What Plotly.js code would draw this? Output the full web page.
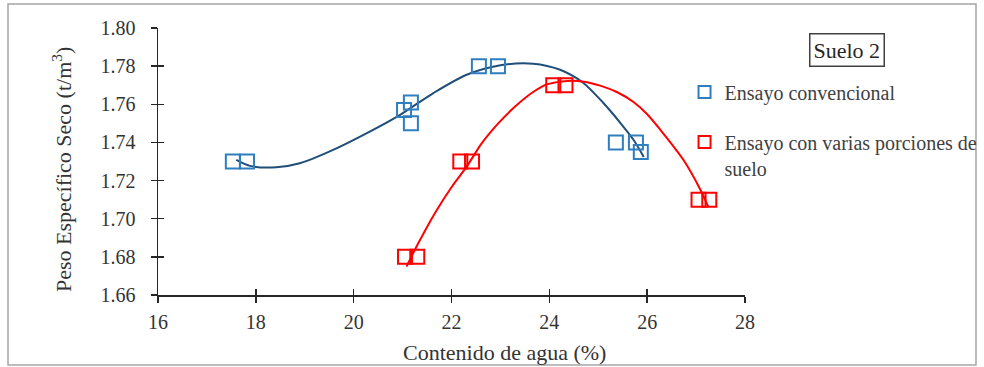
<!DOCTYPE html>
<html><head><meta charset="utf-8">
<script src="https://cdn.plot.ly/plotly-3.0.1.min.js"></script>
<style>html,body{margin:0;padding:0;background:#fff}#chart{width:984px;height:367px}</style>
</head><body><div id="chart"></div>
<script>
// Measured points: Ensayo convencional
const convX = [17.53, 17.82, 21.03, 21.17, 21.17, 22.56, 22.95, 25.36, 25.77, 25.87];
const convY = [1.730, 1.730, 1.757, 1.761, 1.750, 1.780, 1.780, 1.740, 1.740, 1.735];
// Measured points: Ensayo con varias porciones de suelo
const porcX = [21.05, 21.3, 22.18, 22.42, 24.08, 24.33, 27.05, 27.27];
const porcY = [1.680, 1.680, 1.730, 1.730, 1.770, 1.770, 1.710, 1.710];
// Trend lines
const trendConvX = [17.60, 17.88, 18.42, 18.90, 19.58, 20.27, 20.95, 21.63, 22.31, 23.00, 23.67, 24.22, 24.69, 25.10, 25.45, 25.72, 25.93];
const trendConvY = [1.7308, 1.7277, 1.7270, 1.7291, 1.7361, 1.7449, 1.7545, 1.7659, 1.7755, 1.7805, 1.7813, 1.7781, 1.7713, 1.7608, 1.7503, 1.7414, 1.7324];
const trendPorcX = [21.08, 21.32, 21.66, 22.01, 22.31, 22.62, 22.96, 23.30, 23.64, 23.92, 24.26, 24.67, 25.04, 25.39, 25.72, 26.00, 26.27, 26.74, 27.09, 27.25];
const trendPorcY = [1.6749, 1.6871, 1.7029, 1.7169, 1.7273, 1.7396, 1.7501, 1.7588, 1.7659, 1.7702, 1.7720, 1.7720, 1.7698, 1.7663, 1.7612, 1.7548, 1.7466, 1.7309, 1.7151, 1.7062];
// Axis ticks and labels
const xTicks = [16, 18, 20, 22, 24, 26, 28];
const yTicks = [1.66, 1.68, 1.70, 1.72, 1.74, 1.76, 1.78, 1.80];
const seriesNames = ['Ensayo convencional', 'Ensayo con varias porciones de<br>suelo'];
const xTitle = 'Contenido de agua (%)';
const yTitle = 'Peso Específico Seco (t/m<sup>3</sup>)';
const boxLabel = 'Suelo 2';

const FONT = 'Liberation Serif, Times New Roman, serif';
const BLUE = '#2E7EC0', NAVY = '#1F4E79', RED = '#FF0000';

const traces = [
  {x: trendConvX, y: trendConvY, mode: 'lines', line: {color: NAVY, width: 2, shape: 'spline', smoothing: 0.8}, showlegend: false, hoverinfo: 'skip'},
  {x: trendPorcX, y: trendPorcY, mode: 'lines', line: {color: RED, width: 2, shape: 'spline', smoothing: 0.8}, showlegend: false, hoverinfo: 'skip'},
  {x: convX, y: convY, mode: 'markers', name: seriesNames[0], legend: 'legend',
   marker: {symbol: 'square-open', size: 14, color: BLUE, line: {width: 2, color: BLUE}}},
  {x: porcX, y: porcY, mode: 'markers', name: seriesNames[1], legend: 'legend2',
   marker: {symbol: 'square-open', size: 14, color: RED, line: {width: 2, color: RED}}},
  {x: convX, y: convY, xaxis: 'x2', yaxis: 'y2', mode: 'markers', marker: {opacity: 0}, showlegend: false, hoverinfo: 'skip'}
];

const axisCommon = {showgrid: false, zeroline: false, showline: true, linecolor: '#262626', linewidth: 1.5,
  ticks: 'outside', ticklen: 6, tickwidth: 1.5, tickcolor: '#262626',
  tickfont: {family: FONT, size: 20, color: '#333'}};

const layout = {
  width: 984, height: 367,
  margin: {l: 158, r: 239, t: 28, b: 72, autoexpand: false},
  paper_bgcolor: '#fff', plot_bgcolor: '#fff',
  font: {family: FONT, color: '#333'},
  xaxis: Object.assign({}, axisCommon, {range: [16, 28], tickvals: xTicks, ticktext: xTicks.map(String), ticklabelstandoff: 2}),
  yaxis: Object.assign({}, axisCommon, {range: [1.66, 1.80], tickvals: yTicks, ticktext: yTicks.map(v => v.toFixed(2)),
    ticklabelstandoff: 11}),
  xaxis2: {overlaying: 'x', anchor: 'y2', side: 'bottom', range: [16, 28], tickvals: xTicks, ticks: 'inside', ticklen: 6, tickwidth: 1.5, tickcolor: '#262626',
    showticklabels: false, showline: false, showgrid: false, zeroline: false},
  yaxis2: {overlaying: 'y', anchor: 'x2', side: 'left', range: [1.66, 1.80], tickvals: yTicks, ticks: 'inside', ticklen: 6, tickwidth: 1.5, tickcolor: '#262626',
    showticklabels: false, showline: false, showgrid: false, zeroline: false},
  legend: {x: 0.897, y: 0.833, xanchor: 'left', yanchor: 'top', bgcolor: 'rgba(0,0,0,0)',
    font: {family: FONT, size: 20, color: '#404040'}, itemsizing: 'constant', valign: 'top'},
  legend2: {x: 0.897, y: 0.646, xanchor: 'left', yanchor: 'top', bgcolor: 'rgba(0,0,0,0)',
    font: {family: FONT, size: 20, color: '#404040'}, itemsizing: 'constant', valign: 'top'},
  shapes: [{type: 'rect', xref: 'paper', yref: 'paper', x0: -0.2555, x1: 1.3935, y0: -0.262, y1: 1.090,
    line: {color: '#A6A6A6', width: 1.5}}],
  annotations: [
    {text: boxLabel, xref: 'paper', yref: 'paper', x: 1.173, y: 0.919, xanchor: 'center', yanchor: 'middle',
     showarrow: false, font: {family: FONT, size: 22, color: '#262626'}, bordercolor: '#404040', borderwidth: 1.5, borderpad: 3},
    {text: xTitle, xref: 'paper', yref: 'paper', x: 0.591, y: -0.2135, xanchor: 'center', yanchor: 'middle',
     showarrow: false, font: {family: FONT, size: 22, color: '#333'}},
    {text: yTitle, xref: 'paper', yref: 'paper', x: -0.1635, y: 0.468, xanchor: 'center', yanchor: 'middle', textangle: -90,
     showarrow: false, font: {family: FONT, size: 22, color: '#333'}}
  ]
};

Plotly.newPlot('chart', traces, layout, {displayModeBar: false, staticPlot: true});
</script></body></html>
